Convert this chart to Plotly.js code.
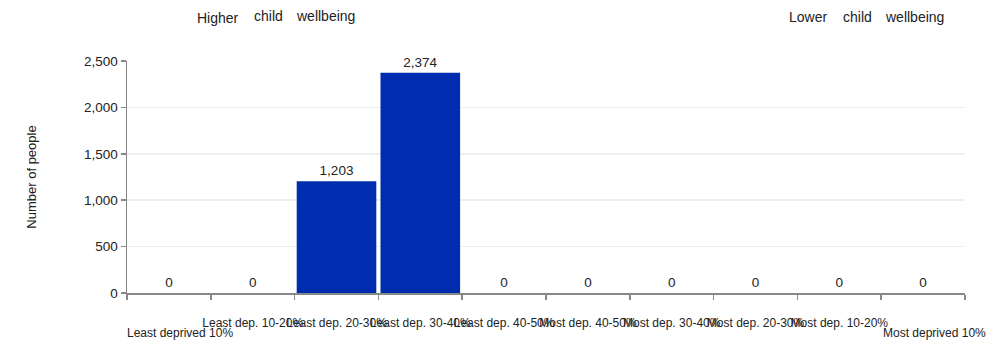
<!DOCTYPE html>
<html>
<head>
<meta charset="utf-8">
<script src="https://cdn.plot.ly/plotly-3.0.1.min.js"></script>
<style>html,body{margin:0;padding:0;background:#fff}#chart{width:1000px;height:342px}</style>
</head>
<body>
<div id="chart"></div>
<script>
const categories = ["Least deprived 10%","Least dep. 10-20%","Least dep. 20-30%","Least dep. 30-40%","Least dep. 40-50%","Most dep. 40-50%","Most dep. 30-40%","Most dep. 20-30%","Most dep. 10-20%","Most deprived 10%"];
const people = [0,0,1203,2374,0,0,0,0,0,0];
const yTicks = [0,500,1000,1500,2000,2500];
const leftWords = ["Higher","child","wellbeing"];
const rightWords = ["Lower","child","wellbeing"];

const font = "Liberation Sans, Arial, sans-serif";
const L = 127, W = 838, TOP = 61;

// the first and last labels sit lower than the rest; drawn as annotations
const lowered = [0, categories.length - 1];
const tickText = categories.map((c, i) => lowered.includes(i) ? "" : c);

const trace = {
  type: "bar",
  x: categories,
  y: people,
  marker: {color: "#002db0"},
  text: people.map(v => v.toLocaleString("en-US")),
  textposition: "outside",
  cliponaxis: false,
  textfont: {family: font, size: 13.5, color: "#222"},
  hoverinfo: "x+y"
};

const annotations = [];
lowered.forEach(i => annotations.push({
  text: categories[i], xref: "x", yref: "paper", x: categories[i], y: 0,
  xshift: 11, yshift: -40, yanchor: "middle", xanchor: "center", showarrow: false,
  font: {family: font, size: 12, color: "#222"}
}));
const leftX = [196, 253, 295], leftY = [17.5, 15.5, 15.5];
const rightX = [788, 842, 884], rightY = [16.5, 16.5, 16.5];
leftWords.forEach((w, i) => annotations.push({
  text: w, xref: "paper", yref: "paper", x: (leftX[i] - 1 - L) / W, y: 1, yshift: TOP - leftY[i],
  xanchor: "left", yanchor: "middle", showarrow: false, font: {family: font, size: 14, color: "#222"}
}));
rightWords.forEach((w, i) => annotations.push({
  text: w, xref: "paper", yref: "paper", x: (rightX[i] - 1 - L) / W, y: 1, yshift: TOP - rightY[i],
  xanchor: "left", yanchor: "middle", showarrow: false, font: {family: font, size: 14, color: "#222"}
}));

const layout = {
  width: 1000, height: 342,
  margin: {l: 127, r: 35, t: 61, b: 49},
  paper_bgcolor: "#fff", plot_bgcolor: "#fff",
  showlegend: false,
  bargap: 0.05,
  font: {family: font, size: 12, color: "#222"},
  xaxis: {
    type: "category",
    autorange: false,
    range: [-0.5, categories.length - 0.5],
    tickmode: "array",
    tickvals: categories,
    ticktext: tickText,
    tickangle: 0,
    tickson: "boundaries",
    ticks: "outside", ticklen: 5, tickwidth: 1.5, tickcolor: "#888",
    ticklabelstandoff: 18,
    showline: true, linecolor: "#888", linewidth: 1.5,
    showgrid: false,
    tickfont: {family: font, size: 12, color: "#222"},
    automargin: false,
    fixedrange: true
  },
  yaxis: {
    range: [0, 2500],
    autorange: false,
    tickmode: "array",
    tickvals: yTicks,
    ticktext: yTicks.map(v => v.toLocaleString("en-US")),
    ticks: "outside", ticklen: 5, tickwidth: 1.5, tickcolor: "#888",
    showline: true, linecolor: "#888", linewidth: 1.5,
    gridcolor: "#eeeeee", gridwidth: 1.5,
    zeroline: false,
    tickfont: {family: font, size: 13.5, color: "#222"},
    title: {text: "Number of people", font: {family: font, size: 13, color: "#222"}, standoff: 44},
    automargin: false,
    fixedrange: true
  },
  annotations: annotations
};
Plotly.newPlot("chart", [trace], layout, {displayModeBar: false, staticPlot: true});
</script>
</body>
</html>
